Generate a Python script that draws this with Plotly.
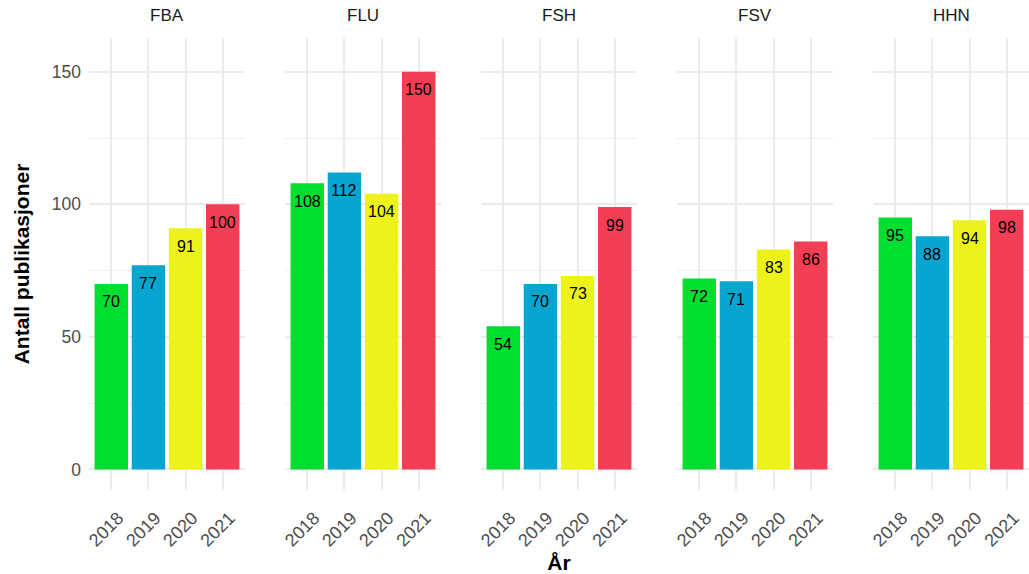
import plotly.graph_objects as go

units = ["FBA", "FLU", "FSH", "FSV", "HHN"]
years = ["2018", "2019", "2020", "2021"]
values = {
    "FBA": [70, 77, 91, 100],
    "FLU": [108, 112, 104, 150],
    "FSH": [54, 70, 73, 99],
    "FSV": [72, 71, 83, 86],
    "HHN": [95, 88, 94, 98],
}
year_colors = ["#00DE2F", "#09A5D1", "#EDF31A", "#F53E55"]
y_ticks = [0, 50, 100, 150]

W, H = 1029, 574
FONT = "Liberation Sans, Arial, sans-serif"
GRID = "#EBEBEB"

panel_left0 = 89
panel_w = 156
panel_gap = 40
y_top_px = 38
y_bot_px = 490

fig = go.Figure()
annotations = []
for i, u in enumerate(units):
    n = "" if i == 0 else str(i + 1)
    fig.add_trace(go.Bar(
        x=years, y=values[u], marker=dict(color=year_colors, line=dict(width=0)),
        xaxis="x" + n, yaxis="y" + n, showlegend=False, hoverinfo="x+y",
    ))
    x0 = (panel_left0 + i * (panel_w + panel_gap)) / W
    x1 = min(1.0, (panel_left0 + i * (panel_w + panel_gap) + panel_w) / W)
    xa = dict(
        domain=[x0, x1], anchor="y" + n, type="category",
        categoryorder="array", categoryarray=years,
        range=[-0.6, 3.6], showgrid=True, gridcolor=GRID, gridwidth=1.5,
        zeroline=False, showline=False, ticks="", tickangle=-45,
        ticklabelstandoff=13, ticklabelshift=7,
        tickfont=dict(family=FONT, size=18, color="#4D4D4D"),
        automargin=False, fixedrange=True,
    )
    if i == 2:
        xa["title"] = dict(text="<b>År</b>", font=dict(family=FONT, size=21, color="black"), standoff=8)
    ya = dict(
        domain=[1 - y_bot_px / H, 1 - y_top_px / H], anchor="x" + n,
        range=[-7.75, 162.75], tickvals=y_ticks, ticktext=[str(t) for t in y_ticks],
        showgrid=True, gridcolor=GRID, gridwidth=1.5, zeroline=False, showline=False,
        ticks="", showticklabels=(i == 0), ticklabelstandoff=7,
        tickfont=dict(family=FONT, size=17.5, color="#4D4D4D"),
        minor=dict(tickvals=[25, 75, 125], showgrid=True, gridcolor="#F0F0F0", gridwidth=1.3),
        automargin=False, fixedrange=True,
    )
    if i == 0:
        ya["title"] = dict(text="<b>Antall publikasjoner</b>", font=dict(family=FONT, size=21, color="black"), standoff=16)
    else:
        ya["matches"] = "y"
    fig.layout["xaxis" + n] = xa
    fig.layout["yaxis" + n] = ya

    annotations.append(dict(
        text=u, xref="x" + n + " domain", yref="paper", x=0.5, y=1 - 16 / H,
        showarrow=False, xanchor="center", yanchor="middle",
        font=dict(family=FONT, size=17, color="#1A1A1A"),
    ))
    for j, v in enumerate(values[u]):
        annotations.append(dict(
            text=str(v), xref="x" + n, yref="y" + n, x=j, y=v, yshift=-18,
            showarrow=False, xanchor="center", yanchor="middle",
            font=dict(family=FONT, size=16, color="black"),
        ))

fig.update_layout(
    width=W, height=H, margin=dict(l=0, r=0, t=0, b=0),
    paper_bgcolor="white", plot_bgcolor="white",
    bargap=0.1, annotations=annotations,
    font=dict(family=FONT),
)

fig.write_html("out.html", config={"displayModeBar": False},
               post_script="document.body.style.margin='0';document.body.style.overflow='hidden';")
